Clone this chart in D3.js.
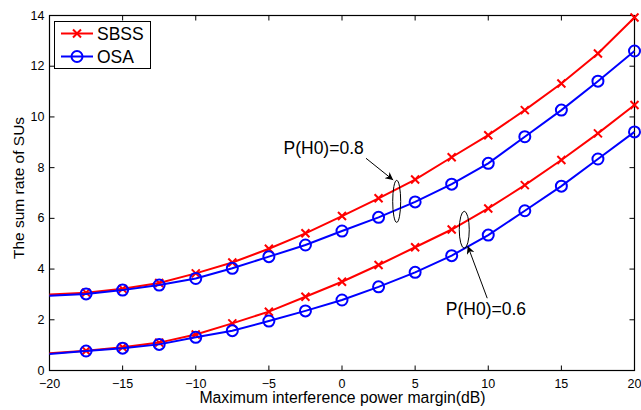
<!DOCTYPE html>
<html>
<head>
<meta charset="utf-8">
<script src="https://cdn.jsdelivr.net/npm/d3@7"></script>
<style>
  body { margin: 0; background: #fff; }
  svg { display: block; font-family: "Liberation Sans", Arial, Helvetica, sans-serif; }
</style>
</head>
<body>
<div id="chart"></div>
<script>
// ---- data ----
const xValues = [-20, -17.5, -15, -12.5, -10, -7.5, -5, -2.5, 0, 2.5, 5, 7.5, 10, 12.5, 15, 17.5, 20];

const sbss08 = [3.0, 3.07, 3.22, 3.45, 3.83, 4.26, 4.8, 5.41, 6.09, 6.79, 7.53, 8.41, 9.28, 10.27, 11.32, 12.5, 13.92];
const osa08  = [2.95, 3.02, 3.17, 3.37, 3.63, 4.03, 4.49, 4.95, 5.5, 6.04, 6.65, 7.35, 8.17, 9.22, 10.27, 11.41, 12.6];
const sbss06 = [0.68, 0.78, 0.92, 1.1, 1.42, 1.86, 2.32, 2.91, 3.5, 4.16, 4.86, 5.56, 6.39, 7.31, 8.3, 9.35, 10.47];
const osa06  = [0.65, 0.77, 0.88, 1.03, 1.31, 1.57, 1.95, 2.35, 2.78, 3.3, 3.87, 4.53, 5.34, 6.3, 7.27, 8.34, 9.41];

const xTicks = [-20, -15, -10, -5, 0, 5, 10, 15, 20];
const yTicks = [0, 2, 4, 6, 8, 10, 12, 14];

const xLabel = "Maximum interference power margin(dB)";
const yLabel = "The sum rate of SUs";

// ---- layout ----
const W = 641, H = 410;
const pL = 49.5, pR = 634.5, pT = 15.5, pB = 370.5;

const x = d3.scaleLinear().domain([-20, 20]).range([pL, pR]);
const y = d3.scaleLinear().domain([0, 14]).range([pB, pT]);

const svg = d3.select("#chart").append("svg").attr("width", W).attr("height", H);

// axes box + inward ticks
const axisColor = "#000";
const tickLen = 5;
svg.append("rect").attr("x", pL).attr("y", pT)
  .attr("width", pR - pL).attr("height", pB - pT)
  .attr("fill", "none").attr("stroke", axisColor).attr("stroke-width", 1.2);

xTicks.forEach(t => {
  svg.append("line").attr("x1", x(t)).attr("x2", x(t)).attr("y1", pB).attr("y2", pB - tickLen).attr("stroke", axisColor);
  svg.append("line").attr("x1", x(t)).attr("x2", x(t)).attr("y1", pT).attr("y2", pT + tickLen).attr("stroke", axisColor);
  svg.append("text").attr("x", x(t)).attr("y", pB + 17)
    .attr("text-anchor", "middle").style("font-size", "12.5px")
    .text(t < 0 ? "\u2212" + Math.abs(t) : t);
});
yTicks.forEach(t => {
  svg.append("line").attr("x1", pL).attr("x2", pL + tickLen).attr("y1", y(t)).attr("y2", y(t)).attr("stroke", axisColor);
  svg.append("line").attr("x1", pR).attr("x2", pR - tickLen).attr("y1", y(t)).attr("y2", y(t)).attr("stroke", axisColor);
  svg.append("text").attr("x", pL - 5).attr("y", y(t)).attr("dy", "0.33em")
    .attr("text-anchor", "end").style("font-size", "12.5px").text(t);
});

svg.append("text").attr("x", 342.5).attr("y", 403)
  .attr("text-anchor", "middle").style("font-size", "15.8px").text(xLabel);
svg.append("text").attr("transform", "translate(23.5,188) rotate(-90)")
  .attr("text-anchor", "middle").style("font-size", "15.5px").text(yLabel);

// ---- series ----
const line = d3.line().x((d, i) => x(xValues[i])).y(d => y(d));

function drawSeries(vals, color, marker) {
  svg.append("path").datum(vals).attr("d", line)
    .attr("fill", "none").attr("stroke", color).attr("stroke-width", 2);
  const pts = vals.map((v, i) => [xValues[i], v]).slice(1);
  pts.forEach(p => {
    const cx = x(p[0]), cy = y(p[1]);
    if (marker === "x") {
      const s = 4;
      svg.append("path").attr("d", `M${cx - s},${cy - s}L${cx + s},${cy + s}M${cx - s},${cy + s}L${cx + s},${cy - s}`)
        .attr("stroke", color).attr("stroke-width", 2);
    } else {
      svg.append("circle").attr("cx", cx).attr("cy", cy).attr("r", 5.5)
        .attr("fill", "none").attr("stroke", color).attr("stroke-width", 2);
    }
  });
}

drawSeries(sbss08, "#ff0000", "x");
drawSeries(sbss06, "#ff0000", "x");
drawSeries(osa08, "#0000ff", "o");
drawSeries(osa06, "#0000ff", "o");

// ---- annotations ----
svg.append("defs").append("marker").attr("id", "arr")
  .attr("viewBox", "0 -5 10 10").attr("refX", 10).attr("refY", 0)
  .attr("markerWidth", 10).attr("markerHeight", 8).attr("markerUnits", "userSpaceOnUse")
  .attr("orient", "auto")
  .append("path").attr("d", "M0,-5L10,0L0,5L3,0Z").attr("fill", "#000");

const notes = [
  { label: "P(H0)=0.8", tx: -4.0, ty: 8.52, ax0: 1.64, ay0: 8.37, ax1: 3.5, ay1: 7.51, ex: 3.74, ey: 6.67, rx: 4, ry: 21 },
  { label: "P(H0)=0.6", tx: 7.1, ty: 2.19, ax0: 9.93, ay0: 2.85, ax1: 8.6, ay1: 4.91, ex: 8.36, ey: 5.55, rx: 5, ry: 18.5 }
];
notes.forEach(n => {
  svg.append("ellipse").attr("cx", x(n.ex)).attr("cy", y(n.ey)).attr("rx", n.rx).attr("ry", n.ry)
    .attr("fill", "none").attr("stroke", "#000").attr("stroke-width", 1);
  svg.append("line").attr("x1", x(n.ax0)).attr("y1", y(n.ay0)).attr("x2", x(n.ax1)).attr("y2", y(n.ay1))
    .attr("stroke", "#000").attr("stroke-width", 1).attr("marker-end", "url(#arr)");
  svg.append("text").attr("x", x(n.tx)).attr("y", y(n.ty)).style("font-size", "17.5px").text(n.label);
});

// ---- legend ----
const lg = svg.append("g");
lg.append("rect").attr("x", 54.5).attr("y", 21.5).attr("width", 96).attr("height", 47)
  .attr("fill", "#fff").attr("stroke", "#000").attr("stroke-width", 1);
[["SBSS", "#ff0000", "x", 33.5], ["OSA", "#0000ff", "o", 56.5]].forEach(r => {
  const [name, col, mk, ly] = r;
  lg.append("line").attr("x1", 61).attr("x2", 93).attr("y1", ly).attr("y2", ly).attr("stroke", col).attr("stroke-width", 2);
  if (mk === "x") {
    const s = 4, cx = 77;
    lg.append("path").attr("d", `M${cx - s},${ly - s}L${cx + s},${ly + s}M${cx - s},${ly + s}L${cx + s},${ly - s}`)
      .attr("stroke", col).attr("stroke-width", 2);
  } else {
    lg.append("circle").attr("cx", 77).attr("cy", ly).attr("r", 5.5).attr("fill", "none").attr("stroke", col).attr("stroke-width", 2);
  }
  lg.append("text").attr("x", 97).attr("y", ly).attr("dy", "0.36em").style("font-size", "17.5px").text(name);
});
</script>
</body>
</html>
